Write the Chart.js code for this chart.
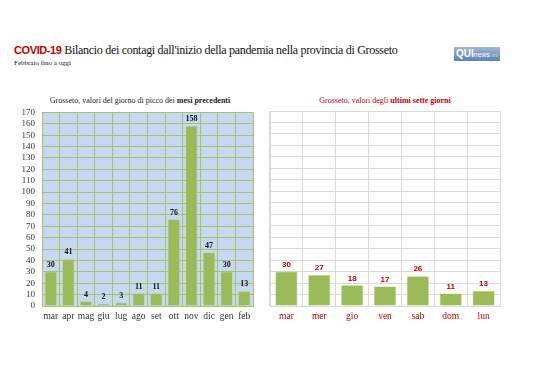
<!DOCTYPE html>
<html><head><meta charset="utf-8">
<script src="https://cdn.jsdelivr.net/npm/chart.js@4/dist/chart.umd.min.js"></script>
<style>
html,body{margin:0;padding:0;background:#fff;width:538px;height:380px;overflow:hidden;position:relative;font-family:"Liberation Serif",serif;}
#title{position:absolute;left:14px;top:43px;font-size:12px;letter-spacing:-0.3px;white-space:nowrap;color:#111;}
#title b{font-family:"Liberation Sans",sans-serif;color:#c00000;font-size:11px;letter-spacing:-0.4px;}
#sub{position:absolute;left:14px;top:59px;font-size:7px;color:#111;}
#logo{position:absolute;left:454px;top:47px;width:46px;height:14px;background:linear-gradient(#9fb8d8,#5d82b3);font-family:"Liberation Sans",sans-serif;font-size:9px;line-height:14px;color:#fff;white-space:nowrap;overflow:hidden;}
#logo b{font-size:10px;margin-left:2px}
#logo span{font-size:7px}
#logo i{font-size:6px;color:#c8d8ee;font-style:normal}
.st{position:absolute;top:96px;font-size:8px;white-space:nowrap;}
#st1{left:0;width:280px;text-align:center;color:#222;}
#st2{left:265px;width:240px;text-align:center;color:#c00000;}
#c1wrap{position:absolute;left:0;top:100px;width:262px;height:230px;}
#c2wrap{position:absolute;left:262px;top:100px;width:250px;height:230px;}
</style></head><body>
<div id="title"><b>COVID-19</b> Bilancio dei contagi dall'inizio della pandemia nella provincia di Grosseto</div>
<div id="sub">Febbraio fino a oggi</div>
<div id="logo"><b>QUI</b><span>news</span><i>.ml</i></div>
<div class="st" id="st1">Grosseto, valori del giorno di picco dei <b>mesi precedenti</b></div>
<div class="st" id="st2">Grosseto, valori degli <b>ultimi sette giorni</b></div>
<div id="c1wrap"><canvas id="c1" width="262" height="230"></canvas></div>
<div id="c2wrap"><canvas id="c2" width="250" height="230"></canvas></div>
<script>
const months = ["mar","apr","mag","giu","lug","ago","set","ott","nov","dic","gen","feb"];
const monthPeaks = [30,41,4,2,3,11,11,76,158,47,30,13];
const days = ["mar","mer","gio","ven","sab","dom","lun"];
const dayValues = [30,27,18,17,26,11,13];
const yMax = 170;
const yStep = 10;

const bgPlugin = {
  id:'bg',
  beforeDraw(chart, args, opts){
    if(!opts.color) return;
    const a = chart.chartArea, ctx = chart.ctx;
    ctx.save(); ctx.fillStyle = opts.color;
    ctx.fillRect(a.left, a.top, a.right-a.left, a.bottom-a.top);
    ctx.restore();
  }
};
const labelPlugin = {
  id:'vlabels',
  afterDatasetsDraw(chart, args, opts){
    const ctx = chart.ctx;
    const meta = chart.getDatasetMeta(0);
    ctx.save();
    ctx.font = opts.font; ctx.fillStyle = opts.color;
    ctx.textAlign = 'center'; ctx.textBaseline = 'bottom';
    meta.data.forEach((bar,i)=>{
      ctx.fillText(String(chart.data.datasets[0].data[i]), bar.x, bar.y - 3);
    });
    ctx.restore();
  }
};

function makeChart(id, labels, data, cfg){
  return new Chart(document.getElementById(id), {
    type:'bar',
    data:{labels, datasets:[{data, backgroundColor:'#9bbb59', borderColor:'#b5cf7c', borderWidth:0.6, barPercentage:cfg.barPct, categoryPercentage:1}]},
    options:{
      responsive:false, animation:false,
      layout:{padding:{top:11,left:cfg.padL,right:cfg.padR,bottom:0}},
      plugins:{legend:{display:false}, tooltip:{enabled:false},
        bg:{color:cfg.bg}, vlabels:{font:cfg.lblFont, color:cfg.lblColor}},
      scales:{
        x:{grid:{color:cfg.grid, lineWidth:1, offset:true, drawTicks:false},
           border:{color:cfg.grid},
           ticks:{color:cfg.xColor, font:{family:'Liberation Serif', size:9.5}, padding:5, maxRotation:0, autoSkip:false},
           afterFit(s){ s.height = 24; }},
        y:{min:0, max:yMax, display:true,
           grid:{color:cfg.grid, lineWidth:1, drawTicks:false},
           border:{color:cfg.grid},
           ticks:{display:cfg.yTicks, stepSize:yStep, autoSkip:false, color:'#333', font:{family:'Liberation Serif', size:9}, padding:7},
           afterFit(s){ s.width = cfg.yW; }}
      }
    },
    plugins:[bgPlugin, labelPlugin]
  });
}
makeChart('c1', months, monthPeaks, {barPct:0.68, padL:0, padR:9, yW:42, bg:'#c6d9f1', grid:'#a6c36b', xColor:'#333', yTicks:true, lblFont:'bold 8px "Liberation Serif"', lblColor:'#111'});
makeChart('c2', days, dayValues, {barPct:0.67, padL:8, padR:12, yW:0, bg:null, grid:'#d9d9d9', xColor:'#c00000', yTicks:false, lblFont:'bold 8px "Liberation Sans"', lblColor:'#c00000'});
</script>
</body></html>
